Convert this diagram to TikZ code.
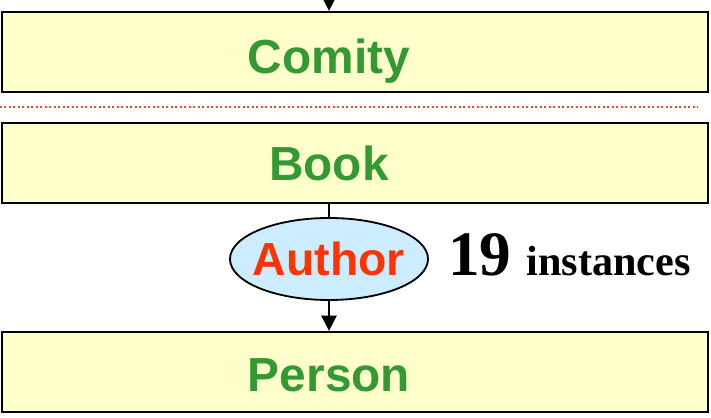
\documentclass[tikz,border=0pt]{standalone}
\usepackage{fontspec}
\setmainfont{Liberation Serif}
\setsansfont{Liberation Sans}
\usepackage{tikz}
\usetikzlibrary{positioning, arrows.meta, shapes.geometric, calc}
\definecolor{boxfill}{HTML}{FFFFCC}
\definecolor{boxtext}{HTML}{339933}
\definecolor{relfill}{HTML}{CCECFF}
\definecolor{reltext}{HTML}{FF3300}
\definecolor{sepline}{HTML}{E0501A}
\tikzstyle{entity} = [rectangle, draw, line width=1.6pt, fill=boxfill, minimum width=17.65cm, minimum height=2cm, inner sep=0pt]
\tikzstyle{elabel} = [font=\sffamily\bfseries\fontsize{34}{34}\selectfont, text=boxtext, inner sep=0pt]
\tikzstyle{relation} = [ellipse, draw, line width=1.3pt, fill=relfill, minimum width=4.95cm, minimum height=2.05cm, inner xsep=-0.6cm, inner ysep=0pt, font=\sffamily\bfseries\fontsize{33}{33}\selectfont, text=reltext]
\tikzstyle{line} = [draw, line width=1.3pt, -{Triangle[length=0.38cm, width=0.38cm]}]

\begin{document}
\begin{tikzpicture}[x=0.025cm, y=-0.025cm]
        \useasboundingbox (0,0) rectangle (711,418);
        % Nodes
        \coordinate (top) at (329,0);
        \node (comity) [entity] at (355,52) {};
        \node (comitytxt) [elabel, anchor=base] at (329,74) {Comity};
        \coordinate (sepl) at (0,107);
        \coordinate (sepr) at (698,107);
        \node (book) [entity] at (355,163) {};
        \node (booktxt) [elabel, anchor=base] at (329,181) {Book};
        \node (author) [relation] at (329,259) {Author\hspace{0.3cm}};
        \node (count) [anchor=base west, inner sep=0pt, font=\bfseries] at (448,276) {{\fontsize{45}{45}\selectfont 19}\hspace{0.375cm}{\fontsize{30}{30}\selectfont instances}};
        \node (person) [entity] at (355,372) {};
        \node (persontxt) [elabel, anchor=base] at (329,392) {Person};
        % Edges
        \path [line] (top) -- (top |- comity.north);
        \draw [sepline, dotted, line width=1.2pt] (sepl) -- (sepr);
        \draw [line width=1.3pt] (book.south -| author) -- (author.north);
        \path [line] (author) -- (author |- person.north);
    \end{tikzpicture}
\end{document}
